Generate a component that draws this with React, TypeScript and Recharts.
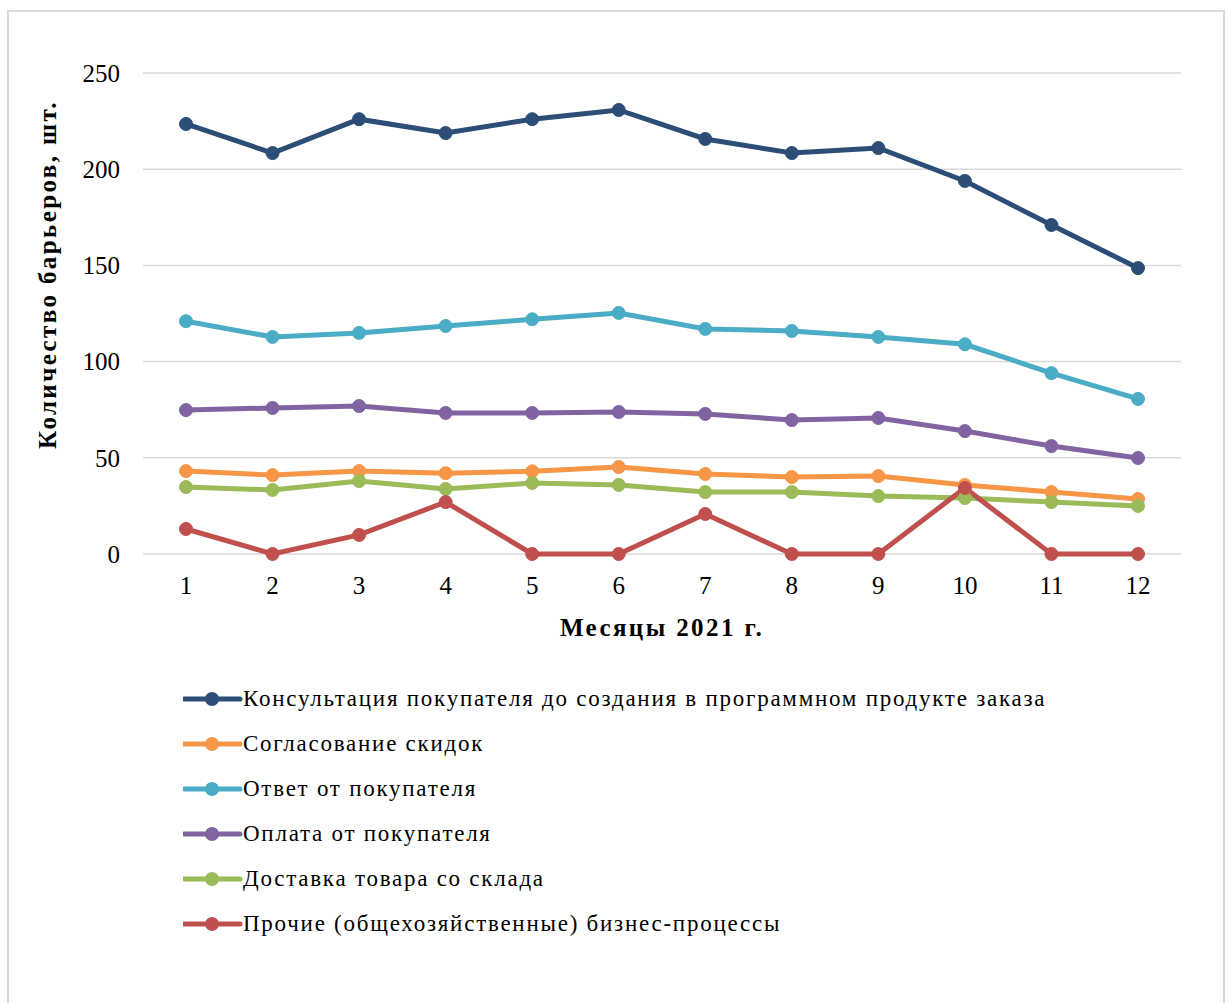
import { LineChart, Line, XAxis, YAxis, CartesianGrid, Legend } from 'recharts'

const months = ['1', '2', '3', '4', '5', '6', '7', '8', '9', '10', '11', '12']

const consultation = [223.5, 208.4, 226, 218.8, 226, 230.8, 215.7, 208.4, 211, 193.9, 171, 148.6]
const discounts = [43.1, 41, 43.1, 42, 43, 45.2, 41.6, 40, 40.5, 35.9, 32.2, 28.6]
const answer = [121, 112.8, 114.9, 118.5, 122, 125.3, 117, 115.9, 112.8, 109, 94, 80.6]
const payment = [74.8, 75.9, 76.9, 73.3, 73.3, 73.8, 72.8, 69.6, 70.7, 63.9, 56.1, 49.9]
const delivery = [34.8, 33.3, 37.9, 33.8, 36.9, 35.9, 32.2, 32.2, 30.1, 29.1, 27, 25]
const other = [13, 0, 9.9, 27, 0, 0, 20.8, 0, 0, 34.3, 0, 0]

const yTicks = [0, 50, 100, 150, 200, 250]

const series = [
  { key: 'consultation', name: 'Консультация покупателя до создания в программном продукте заказа', color: '#2c4d75', values: consultation },
  { key: 'discounts', name: 'Согласование скидок', color: '#f79646', values: discounts },
  { key: 'answer', name: 'Ответ от покупателя', color: '#4bacc6', values: answer },
  { key: 'payment', name: 'Оплата от покупателя', color: '#8064a2', values: payment },
  { key: 'delivery', name: 'Доставка товара со склада', color: '#9bbb59', values: delivery },
  { key: 'other', name: 'Прочие (общехозяйственные) бизнес-процессы', color: '#c0504d', values: other },
]

const data = months.map((m, i) => {
  const row: Record<string, string | number> = { month: m }
  series.forEach((s) => {
    row[s.key] = s.values[i]
  })
  return row
})

const FONT = '"Liberation Serif", "Times New Roman", serif'

function YLabel({ viewBox }: any) {
  const cx = viewBox.x + 38
  const cy = viewBox.y + viewBox.height / 2 - 39
  return (
    <text
      x={cx}
      y={cy}
      transform={`rotate(-90 ${cx} ${cy})`}
      textAnchor="middle"
      dominantBaseline="central"
      fontFamily={FONT}
      fontWeight="bold"
      fontSize={25}
      letterSpacing={2.4}
      fill="#000"
    >
      Количество барьеров, шт.
    </text>
  )
}

// legend keeps the series order (recharts sorts its payload by name otherwise)
function LegendList() {
  return (
    <div style={{ fontFamily: FONT, fontSize: 23, letterSpacing: 1.75, color: '#000' }}>
      {series.map((s) => (
        <div key={s.key} style={{ height: 45, display: 'flex', alignItems: 'center' }}>
          <svg width={60} height={20}>
            <line x1={1} y1={10} x2={57} y2={10} stroke={s.color} strokeWidth={5} strokeLinecap="round" />
            <circle cx={29} cy={10} r={7} fill={s.color} />
          </svg>
          <span style={{ whiteSpace: 'nowrap' }}>{s.name}</span>
        </div>
      ))}
    </div>
  )
}

export default function App() {
  return (
    <div
      style={{
        position: 'absolute',
        left: 7,
        top: 10,
        width: 1214,
        height: 1000,
        border: '2px solid #d9d9d9',
        background: '#fff',
      }}
    >
      <LineChart
        width={1214}
        height={990}
        data={data}
        margin={{ top: 61, right: 42, left: 0, bottom: 358 }}
      >
        <CartesianGrid vertical={false} stroke="#d9d9d9" strokeWidth={1.5} />
        <XAxis
          dataKey="month"
          height={90}
          axisLine={false}
          tickLine={false}
          tickSize={0}
          tickMargin={22}
          padding={{ left: 43, right: 43 }}
          tick={{ fontFamily: FONT, fontSize: 25, fill: '#000' }}
          label={{
            value: 'Месяцы 2021 г.',
            position: 'insideBottom',
            offset: 8,
            fontFamily: FONT,
            fontSize: 25,
            fontWeight: 'bold',
            letterSpacing: 2.4,
            fill: '#000',
          }}
        />
        <YAxis
          width={134}
          domain={[0, 250]}
          ticks={yTicks}
          axisLine={false}
          tickLine={false}
          tickSize={0}
          tickMargin={23}
          tick={{ fontFamily: FONT, fontSize: 25, fill: '#000' }}
          label={<YLabel />}
        />
        <Legend
          layout="horizontal"
          verticalAlign="middle"
          align="center"
          wrapperStyle={{ top: 664, left: 174, width: 'auto', height: 'auto' }}
          content={<LegendList />}
        />
        {series.map((s) => (
          <Line
            key={s.key}
            type="linear"
            dataKey={s.key}
            name={s.name}
            stroke={s.color}
            strokeWidth={5}
            dot={{ r: 6.5, fill: s.color, stroke: s.color, strokeWidth: 1 }}
            activeDot={false}
            isAnimationActive={false}
          />
        ))}
      </LineChart>
    </div>
  )
}
